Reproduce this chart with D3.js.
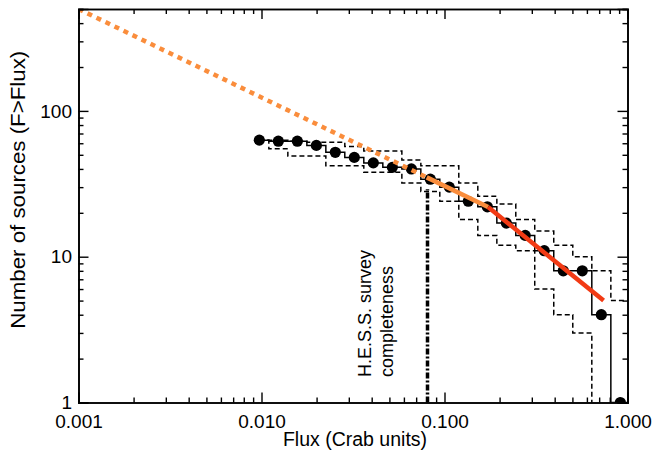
<!DOCTYPE html>
<html>
<head>
<meta charset="utf-8">
<script src="https://cdn.jsdelivr.net/npm/d3@7"></script>
<style>
  html, body { margin: 0; padding: 0; background: #fff; }
  svg { display: block; }
  text { font-family: "Liberation Sans", Arial, Helvetica, sans-serif; fill: #000; }
</style>
</head>
<body>
<svg id="chart" width="654" height="458"></svg>
<script>
// ---- data ----
const fluxBins = [0.00973, 0.01236, 0.0157, 0.01995, 0.02531, 0.03214, 0.04083, 0.05188, 0.06592, 0.08363,
                  0.1062, 0.1349, 0.1714, 0.2178, 0.2761, 0.3508, 0.4457, 0.5662, 0.7194, 0.9141];
const nSources = [63, 62, 62, 58, 52, 48, 44, 41, 40, 34, 30, 24, 22, 17, 14, 11, 8, 8, 4, 1];
const nUpper   = [63, 63, 62, 61, 61, 57, 53, 53, 46, 42, 42, 32, 26, 23, 18, 15, 12, 10, 8, 5];
const nLower   = [63, 55, 49, 49, 42, 42, 38, 38, 32, 28, 24, 18, 14, 12, 11, 6, 4, 3, 0, 0];

const fitDottedFlux = [0.001, 0.08];
const fitDottedN    = [500, 35];
const fitOrangeFlux = [0.08, 0.173];
const fitOrangeN    = [35, 21.9];
const fitRedFlux    = [0.173, 0.74];
const fitRedN       = [21.9, 5.0];

const completenessFlux = 0.08;
const completenessTopN = 29;

const xMajorTicks = [0.001, 0.01, 0.1, 1];
const yMajorTicks = [1, 10, 100];
const xLabel = "Flux (Crab units)";
const yLabel = "Number of sources (F>Flux)";
const noteLines = ["H.E.S.S. survey", "completeness"];

// ---- layout ----
const L = 78.5, R = 627.5, T = 9, B = 402.5;
const svg = d3.select("#chart");
const x = d3.scaleLog().domain([0.001, 1]).range([L, R]);
const y = d3.scaleLog().domain([1, 500]).range([B, T]);
const yv = v => y(Math.max(v, 0.3));

svg.append("defs").append("clipPath").attr("id", "plotclip")
  .append("rect").attr("x", L).attr("y", T).attr("width", R - L).attr("height", B - T);

const plot = svg.append("g").attr("clip-path", "url(#plotclip)");

function stepPoints(vals) {
  const n = fluxBins.length;
  const pts = fluxBins.map((f, i) => [x(f), yv(vals[i])]);
  const ext = fluxBins[n - 1] * Math.sqrt(fluxBins[n - 1] / fluxBins[n - 2]);
  pts.push([x(ext), yv(vals[n - 1])]);
  return pts;
}
const stepLine = d3.line().curve(d3.curveStep);

[nUpper, nLower].forEach(vals => {
  plot.append("path").attr("d", stepLine(stepPoints(vals)))
    .attr("fill", "none").attr("stroke", "#000").attr("stroke-width", 1.5)
    .attr("stroke-dasharray", "5,3");
});
plot.append("path").attr("d", stepLine(stepPoints(nSources)))
  .attr("fill", "none").attr("stroke", "#000").attr("stroke-width", 1.5);

plot.selectAll("circle.pt").data(fluxBins).enter().append("circle")
  .attr("class", "pt")
  .attr("cx", d => x(d)).attr("cy", (d, i) => yv(nSources[i])).attr("r", 5.6)
  .attr("fill", "#000");

// completeness line
plot.append("line")
  .attr("x1", Math.round(x(completenessFlux)) + 0.5).attr("x2", Math.round(x(completenessFlux)) + 0.5)
  .attr("y1", y(1)).attr("y2", y(completenessTopN))
  .attr("stroke", "#000").attr("stroke-width", 3.5)
  .attr("stroke-dasharray", "6,2,2,2");

// fits
const fitLine = d3.line().x(d => x(d[0])).y(d => y(d[1]));
plot.append("path").attr("d", fitLine(fitDottedFlux.map((f, i) => [f, fitDottedN[i]])))
  .attr("fill", "none").attr("stroke", "#FA8D3C").attr("stroke-width", 4.5)
  .attr("stroke-linecap", "butt")
  .attr("stroke-dasharray", "5,5");
plot.append("path").attr("d", fitLine(fitOrangeFlux.map((f, i) => [f, fitOrangeN[i]])))
  .attr("fill", "none").attr("stroke", "#FA8D3C").attr("stroke-width", 4.5);
plot.append("path").attr("d", fitLine(fitRedFlux.map((f, i) => [f, fitRedN[i]])))
  .attr("fill", "none").attr("stroke", "#F23A14").attr("stroke-width", 4.5);

// note text
const noteX = [371, 392.5];
noteLines.forEach((t, i) => {
  svg.append("text")
    .attr("transform", `translate(${noteX[i]},377) rotate(-90)`)
    .attr("text-anchor", "start")
    .attr("font-size", 18)
    .text(t);
});

// ---- axes ----
const xMinor = [];
[0.001, 0.01, 0.1].forEach(d => { for (let k = 2; k <= 9; k++) xMinor.push(d * k); });
const yMinor = [];
[1, 10, 100].forEach(d => { for (let k = 2; k <= 9; k++) if (d * k <= 500) yMinor.push(d * k); });

const fs = 19;
const fmtX = d3.format(".3f");

function styleAxis(g) {
  g.select(".domain").attr("stroke", "#000").attr("stroke-width", 1.6);
  g.selectAll(".tick line").attr("stroke", "#000").attr("stroke-width", 1.4);
  g.selectAll("text").attr("font-size", fs).attr("font-family", '"Liberation Sans", Arial, Helvetica, sans-serif');
}

// bottom
svg.append("g").attr("transform", `translate(0,${B})`)
  .call(d3.axisBottom(x).tickValues(xMajorTicks).tickSize(-10).tickPadding(12.5).tickFormat(fmtX))
  .call(styleAxis);
svg.append("g").attr("transform", `translate(0,${B})`)
  .call(d3.axisBottom(x).tickValues(xMinor).tickSize(-5).tickFormat(""))
  .call(styleAxis);
// top
svg.append("g").attr("transform", `translate(0,${T})`)
  .call(d3.axisTop(x).tickValues(xMajorTicks).tickSize(-10).tickFormat(""))
  .call(styleAxis);
svg.append("g").attr("transform", `translate(0,${T})`)
  .call(d3.axisTop(x).tickValues(xMinor).tickSize(-5).tickFormat(""))
  .call(styleAxis);
// left
svg.append("g").attr("transform", `translate(${L},0)`)
  .call(d3.axisLeft(y).tickValues(yMajorTicks).tickSize(-10).tickPadding(6.5).tickFormat(d3.format("d")))
  .call(styleAxis);
svg.append("g").attr("transform", `translate(${L},0)`)
  .call(d3.axisLeft(y).tickValues(yMinor).tickSize(-5).tickFormat(""))
  .call(styleAxis);
// right
svg.append("g").attr("transform", `translate(${R},0)`)
  .call(d3.axisRight(y).tickValues(yMajorTicks).tickSize(-10).tickFormat(""))
  .call(styleAxis);
svg.append("g").attr("transform", `translate(${R},0)`)
  .call(d3.axisRight(y).tickValues(yMinor).tickSize(-5).tickFormat(""))
  .call(styleAxis);

// axis titles
svg.append("text")
  .attr("x", (L + R) / 2 + 2).attr("y", 446)
  .attr("text-anchor", "middle").attr("font-size", 19.5)
  .text(xLabel);
svg.append("text")
  .attr("transform", `translate(25,${(T + B) / 2 - 16}) rotate(-90)`)
  .attr("text-anchor", "middle").attr("font-size", 20)
  .attr("textLength", 278).attr("lengthAdjust", "spacingAndGlyphs")
  .text(yLabel);
</script>
</body>
</html>
